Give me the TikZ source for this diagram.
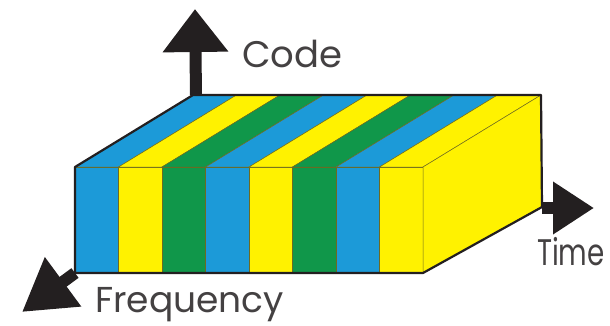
\documentclass[tikz,border=0pt]{standalone}
\usepackage{fontspec}
\setmainfont{Poppins}
\usetikzlibrary{calc,arrows.meta}
\definecolor{sblue}{HTML}{1C9AD8}
\definecolor{syellow}{HTML}{FFF200}
\definecolor{sgreen}{HTML}{10974A}
\definecolor{ink}{HTML}{231F20}
\definecolor{seam}{HTML}{6E6A20}
\def\stripew{43.5}
\tikzset{
  axis/.style={draw=ink, line width=12pt},
  seamline/.style={draw=seam, line width=0.5pt},
  label/.style={text=ink!85, inner sep=0pt, font=\fontsize{37}{40}\selectfont},
}

\begin{document}
\begin{tikzpicture}[x=1pt,y=-1pt]
  \useasboundingbox (0,0) rectangle (610,325);

  % box corners
  \coordinate (fl) at (75,167);
  \coordinate (flb) at (75,273);
  \coordinate (fr) at (423,167);
  \coordinate (frb) at (423,273);
  \coordinate (bl) at (193,95);
  \coordinate (br) at (541,95);
  \coordinate (brb) at (542,207);

  % stripes, front and top
  \foreach \i/\c in {0/sblue,1/syellow,2/sgreen,3/sblue,4/syellow,5/sgreen,6/sblue,7/syellow}{
    \pgfmathsetmacro\xa{75+\i*\stripew}
    \pgfmathsetmacro\xb{75+(\i+1)*\stripew}
    \filldraw[fill=\c, seamline] (\xa,167) rectangle (\xb,273);
    \filldraw[fill=\c, seamline] (\xa,167) -- (\xb,167) -- ($(\xb,167)+(118,-72)$) -- ($(\xa,167)+(118,-72)$) -- cycle;
  }

  % side face
  \filldraw[fill=syellow, seamline] (fr) -- (br) -- (brb) -- (frb) -- cycle;

  % outline
  \draw[ink, line width=2.2pt, line join=round] (fl) -- (bl) -- (br) -- (brb) -- (frb) -- (flb) -- cycle;

  % axes
  \coordinate (codetip) at (195,9);
  \coordinate (timetip) at (594,208);
  \coordinate (freqtip) at (22,312);
  \draw[axis, -{Triangle[length=43pt,width=63pt]}] ($(bl)+(3,0)$) -- (codetip);
  \draw[axis, -{Triangle[length=41pt,width=50pt]}] ($(brb)+(0,1)$) -- (timetip);
  \draw[axis, -{Triangle[length=51pt,width=58pt]}] (flb) -- (freqtip);

  \node[label, anchor=base west] (code) at (242,67) {Code};
  \node[label, anchor=base west, font=\fontsize{36}{40}\selectfont] (freq) at (95,312) {Frequency};
  \node[label, anchor=base west, xscale=0.75] (time) at (537,265) {Time};
\end{tikzpicture}
\end{document}
